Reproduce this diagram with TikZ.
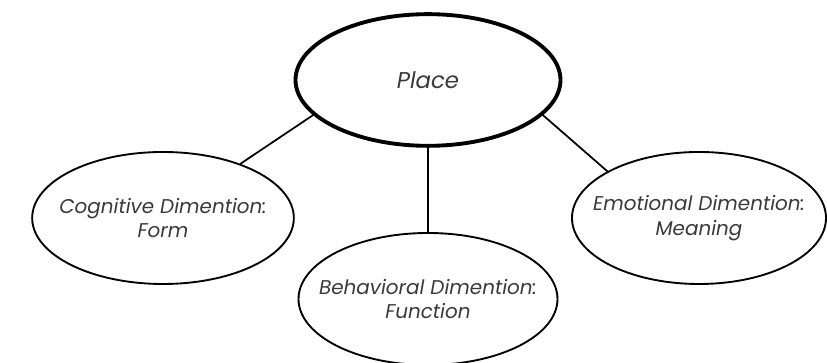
\documentclass[tikz,border=0pt]{standalone}
\usepackage{fontspec}
\setmainfont{Poppins}
\usetikzlibrary{shapes.geometric}

\definecolor{textgray}{HTML}{3A3A3A}

\begin{document}
\begin{tikzpicture}[
    dim/.style={ellipse, draw, line width=1.6pt, inner xsep=-1.2cm, inner ysep=-0.4cm,
      align=center, minimum width=7.85cm, minimum height=3.96cm, text=textgray,
      font=\fontsize{17}{21}\selectfont\itshape},
    core/.style={dim, line width=3.3pt, minimum width=7.95cm, minimum height=3.95cm,
      font=\fontsize{19.5}{22}\selectfont\itshape},
    link/.style={line width=1.5pt}
]
\useasboundingbox (0,0) rectangle (24.81,10.89);

% Nodes using absolute positioning
\node[core] (place) at (12.84, 8.49) {Place};
\node[dim] (cognitive) at (4.89, 4.35) {Cognitive Dimention:\\Form};
\node[dim, minimum width=7.77cm] (behavioral) at (12.84, 1.92) {Behavioral Dimention:\\Function};
\node[dim, minimum width=7.62cm] (emotional) at (20.97, 4.35) {Emotional Dimention:\\Meaning};

% Lines
\draw[link] (place.197.8) -- (cognitive.35.2);
\draw[link] (place.south) -- (behavioral.north);
\draw[link] (place.343.5) -- (emotional.153.7);

\end{tikzpicture}
\end{document}
